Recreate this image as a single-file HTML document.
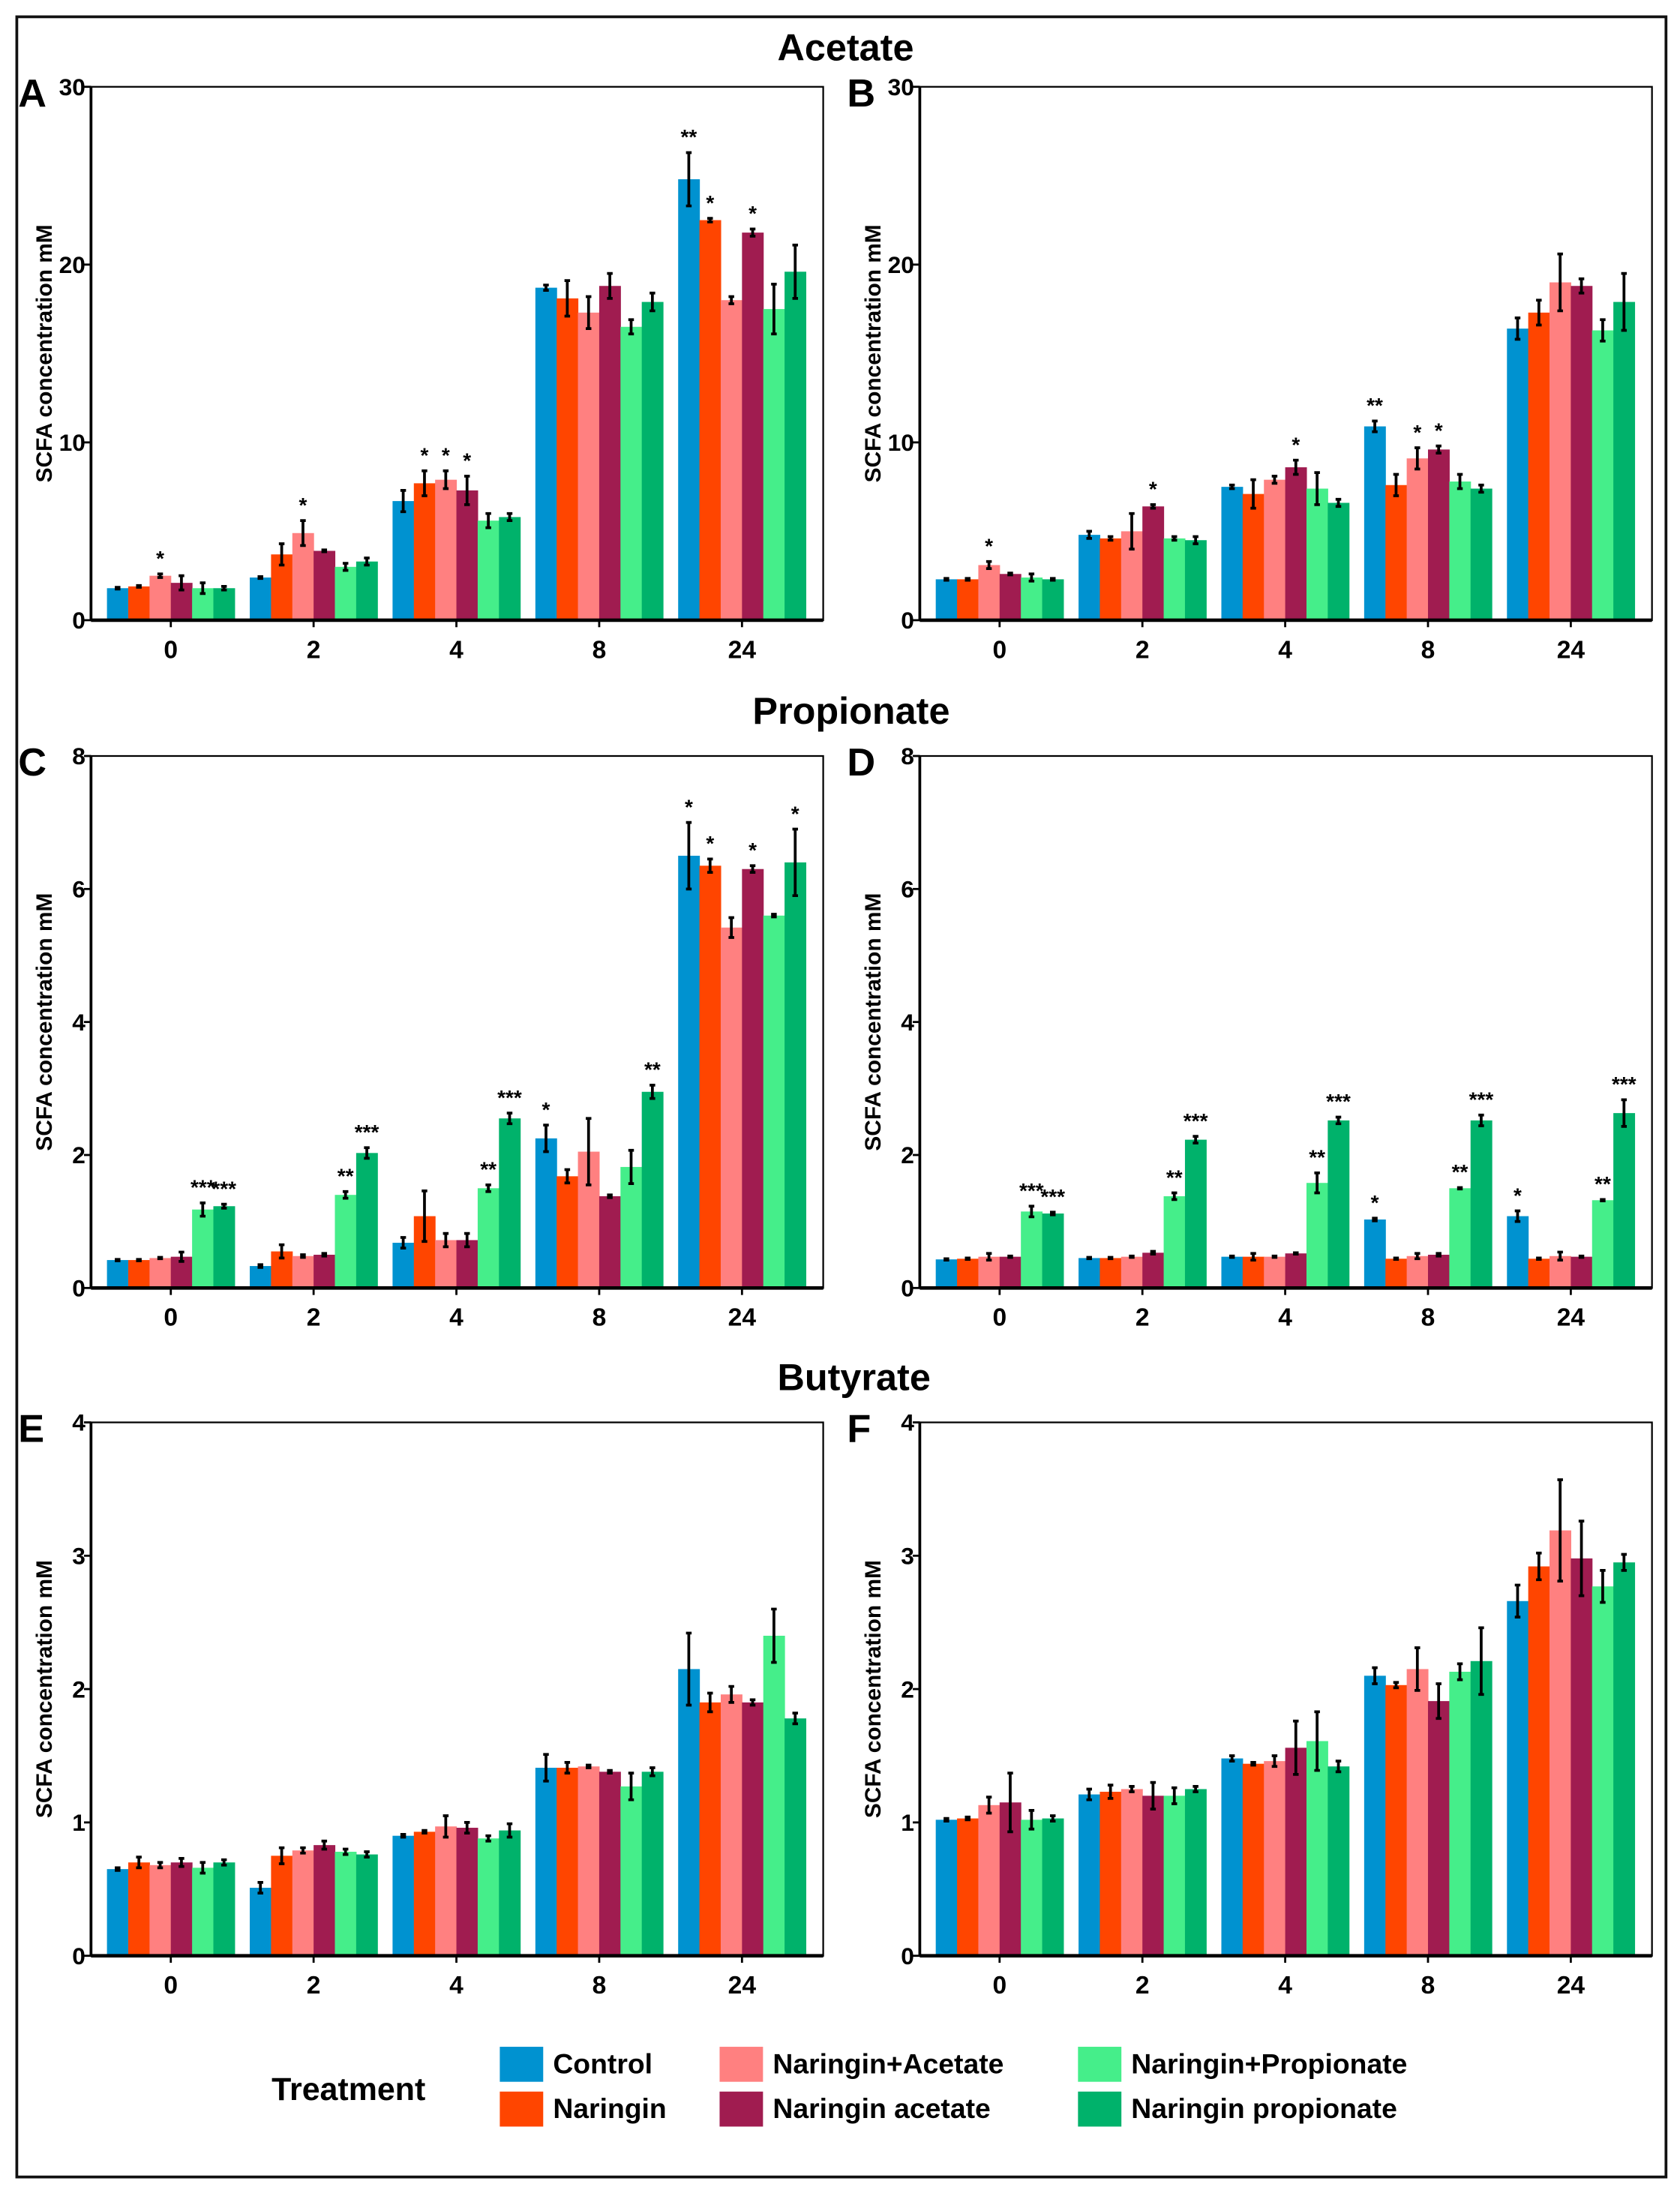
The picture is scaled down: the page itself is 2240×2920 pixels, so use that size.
<!DOCTYPE html>
<html><head><meta charset="utf-8"><style>
html,body{margin:0;padding:0;background:#fff;}
svg{display:block;font-family:"Liberation Sans",sans-serif;}
</style></head><body>
<svg id="fig" width="2240" height="2920" viewBox="0 0 1200 1564.3" xmlns="http://www.w3.org/2000/svg">
<rect x="12" y="12" width="1178" height="1543" fill="none" stroke="#111" stroke-width="2"/>
<text x="604" y="43" text-anchor="middle" font-size="27" font-weight="bold">Acetate</text>
<text x="608" y="517" text-anchor="middle" font-size="27" font-weight="bold">Propionate</text>
<text x="610" y="993" text-anchor="middle" font-size="27" font-weight="bold">Butyrate</text>
<g id="panels"></g>
<g>
<text x="194" y="1500" font-size="23" font-weight="bold">Treatment</text>
<g id="legend"></g>
</g>
</svg>
<script>
const categories = ["0","2","4","8","24"];
const seriesNames = ["Control","Naringin","Naringin+Acetate","Naringin acetate","Naringin+Propionate","Naringin propionate"];
const colors = ["#0092D0","#FF4500","#FF8080","#A01C50","#45EE8A","#00B26B"];

const aVals = [[1.8,2.4,6.7,18.7,24.8],[1.9,3.7,7.7,18.1,22.5],[2.5,4.9,7.9,17.3,18.0],[2.1,3.9,7.3,18.8,21.8],[1.8,3.0,5.6,16.5,17.5],[1.8,3.3,5.8,17.9,19.6]];
const aErr = [[.05,.05,.6,.15,1.5],[.05,.6,.7,1,.1],[.1,.7,.5,.9,.2],[.4,.05,.8,.7,.2],[.3,.2,.4,.4,1.4],[.1,.2,.2,.5,1.5]];
const aStars = [[0,2,"*"],[1,2,"*"],[2,1,"*"],[2,2,"*"],[2,3,"*"],[4,0,"**"],[4,1,"*"],[4,3,"*"]];

const bVals = [[2.3,4.8,7.5,10.9,16.4],[2.3,4.6,7.1,7.6,17.3],[3.1,5.0,7.9,9.1,19.0],[2.6,6.4,8.6,9.6,18.8],[2.4,4.6,7.4,7.8,16.3],[2.3,4.5,6.6,7.4,17.9]];
const bErr = [[.05,.2,.1,.3,.6],[.05,.1,.8,.6,.7],[.2,1,.2,.6,1.6],[.05,.1,.4,.2,.4],[.2,.1,.9,.4,.6],[.05,.2,.2,.2,1.6]];
const bStars = [[0,2,"*"],[1,3,"*"],[2,3,"*"],[3,0,"**"],[3,2,"*"],[3,3,"*"]];

const cVals = [[.42,.33,.68,2.25,6.5],[.42,.55,1.08,1.68,6.35],[.45,.48,.72,2.05,5.42],[.47,.5,.72,1.38,6.3],[1.18,1.4,1.5,1.82,5.6],[1.23,2.03,2.55,2.95,6.4]];
const cErr = [[.01,.02,.08,.2,.5],[.01,.1,.38,.1,.1],[.01,.02,.1,.5,.15],[.07,.02,.1,.02,.05],[.1,.05,.05,.25,.02],[.03,.08,.08,.1,.5]];
const cStars = [[0,4,"***"],[0,5,"***"],[1,4,"**"],[1,5,"***"],[2,4,"**"],[2,5,"***"],[3,0,"*"],[3,5,"**"],[4,0,"*"],[4,1,"*"],[4,3,"*"],[4,5,"*"]];

const dVals = [[.43,.45,.47,1.03,1.08],[.44,.45,.47,.44,.44],[.47,.47,.47,.48,.48],[.47,.53,.52,.5,.47],[1.15,1.38,1.58,1.5,1.32],[1.12,2.23,2.52,2.52,2.63]];
const dErr = [[.01,.01,.01,.02,.08],[.01,.01,.05,.01,.01],[.05,.01,.01,.04,.06],[.01,.02,.01,.02,.01],[.08,.05,.15,.01,.01],[.02,.05,.05,.08,.2]];
const dStars = [[0,4,"***"],[0,5,"***"],[1,4,"**"],[1,5,"***"],[2,4,"**"],[2,5,"***"],[3,0,"*"],[3,4,"**"],[3,5,"***"],[4,0,"*"],[4,4,"**"],[4,5,"***"]];

const eVals = [[.65,.51,.9,1.41,2.15],[.7,.75,.93,1.41,1.9],[.68,.79,.97,1.42,1.96],[.7,.83,.96,1.38,1.9],[.66,.78,.88,1.27,2.4],[.7,.76,.94,1.38,1.78]];
const eErr = [[.01,.04,.01,.1,.27],[.04,.06,.01,.04,.07],[.02,.02,.08,.01,.06],[.03,.03,.04,.01,.02],[.04,.02,.02,.1,.2],[.02,.02,.05,.03,.04]];
const eStars = [];

const fVals = [[1.02,1.21,1.48,2.1,2.66],[1.03,1.23,1.44,2.03,2.92],[1.13,1.25,1.46,2.15,3.19],[1.15,1.2,1.56,1.91,2.98],[1.02,1.2,1.61,2.13,2.77],[1.03,1.25,1.42,2.21,2.95]];
const fErr = [[.01,.04,.02,.06,.12],[.01,.05,.01,.02,.1],[.06,.02,.04,.16,.38],[.22,.1,.2,.13,.28],[.07,.06,.22,.06,.12],[.02,.02,.04,.25,.06]];
const fStars = [];

const acetateTicks = [0,10,20,30];
const propionateTicks = [0,2,4,6,8];
const butyrateTicks = [0,1,2,3,4];

const NS="http://www.w3.org/2000/svg";
function mk(tag,attrs,parent){const e=document.createElementNS(NS,tag);for(const k in attrs)e.setAttribute(k,attrs[k]);parent.appendChild(e);return e;}

function panel(letter,x0,top,bottom,ticks,vals,errs,stars){
  const root=document.getElementById('panels');
  const g=mk('g',{},root);
  
  
  const right=x0+523, ymax=ticks[ticks.length-1];
  const y=v=>bottom-(v/ymax)*(bottom-top);
  const cx=i=>x0+57+i*102;
  const bw=15.2;
  const bx=(i,s)=>cx(i)-3*bw+s*bw;
  // bars
  for(let s=0;s<vals.length;s++){
    for(let i=0;i<categories.length;i++){
      const v=vals[s][i];
      const r=mk('rect',{x:bx(i,s),y:y(v),width:bw+0.3,height:bottom-y(v),fill:colors[s]},g);
      
      
      const e=errs[s][i], mx=bx(i,s)+bw/2;
      const el=mk('path',{d:`M${mx},${y(v+e)}V${y(v-e)}M${mx-2},${y(v+e)}h4M${mx-2},${y(v-e)}h4`,stroke:'#000','stroke-width':2,fill:'none'},g);
      
      
    }
  }
  stars.forEach(st=>{
    const [i,s,t]=st, v=vals[s][i]+errs[s][i];
    const tx=mk('text',{x:bx(i,s)+bw/2,y:y(v)-6,'text-anchor':'middle','font-size':15,'font-weight':'bold'},g);
    tx.textContent=t;
    
    
  });
  // frame
  const fr=mk('rect',{x:x0,y:top,width:right-x0,height:bottom-top,fill:'none',stroke:'#000','stroke-width':1.2},g);
  
  
  mk('line',{x1:x0,y1:bottom,x2:right,y2:bottom,stroke:'#000','stroke-width':2.5},g);
  mk('line',{x1:x0,y1:top,x2:x0,y2:bottom,stroke:'#000','stroke-width':2},g);
  ticks.forEach(t=>{
    mk('line',{x1:x0-5,y1:y(t),x2:x0,y2:y(t),stroke:'#000','stroke-width':1.5},g);
    const tl=mk('text',{x:x0-4,y:y(t)+6,'text-anchor':'end','font-size':17,'font-weight':'bold'},g);
    tl.textContent=t;
    
    
  });
  categories.forEach((c,i)=>{
    mk('line',{x1:cx(i),y1:bottom,x2:cx(i),y2:bottom+5,stroke:'#000','stroke-width':1.5},g);
    const tl=mk('text',{x:cx(i),y:bottom+27,'text-anchor':'middle','font-size':18,'font-weight':'bold'},g);
    tl.textContent=c;
    
    
  });
  const yt=mk('text',{transform:`translate(${x0-28},${(top+bottom)/2}) rotate(-90)`,'text-anchor':'middle','font-size':16,'font-weight':'bold'},g);
  yt.textContent='SCFA concentration mM';
  
  
  const pl=mk('text',{x:x0-52,y:top+14,'font-size':28,'font-weight':'bold'},g);
  pl.textContent=letter;
  
  
}
panel('A',65,62,443,acetateTicks,aVals,aErr,aStars);
panel('B',657,62,443,acetateTicks,bVals,bErr,bStars);
panel('C',65,540,920,propionateTicks,cVals,cErr,cStars);
panel('D',657,540,920,propionateTicks,dVals,dErr,dStars);
panel('E',65,1016,1397,butyrateTicks,eVals,eErr,eStars);
panel('F',657,1016,1397,butyrateTicks,fVals,fErr,fStars);

const lg=document.getElementById('legend');
const lx=[357,357,514,514,770,770], ly=[1462,1494,1462,1494,1462,1494];
seriesNames.forEach((n,s)=>{
  const sw=mk('rect',{x:lx[s],y:ly[s],width:31,height:25,fill:colors[s]},lg);
  
  
  const t=mk('text',{x:lx[s]+38,y:ly[s]+19,'font-size':20,'font-weight':'bold'},lg);
  t.textContent=n;
  
  
});
</script>
</body></html>
